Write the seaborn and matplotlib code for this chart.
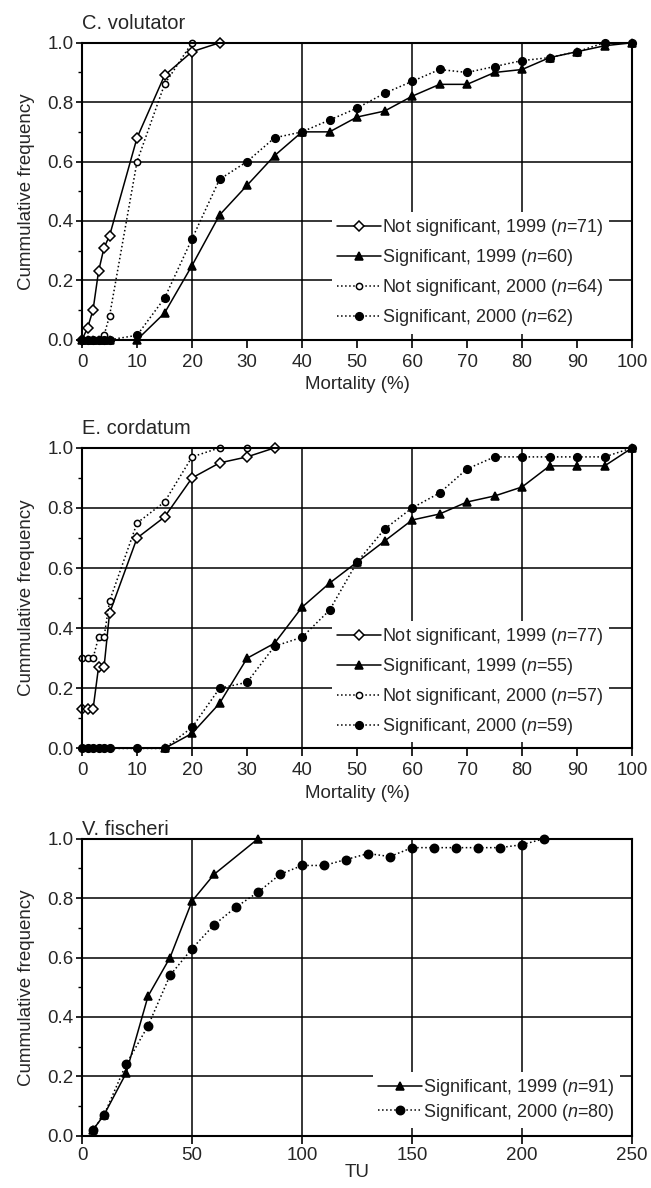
import matplotlib
matplotlib.use("Agg")
import matplotlib.pyplot as plt
import seaborn as sns
from matplotlib.ticker import MultipleLocator, FixedLocator, FormatStrFormatter

# ---- C. volutator (mortality %) ----
cv_x_ns99 = [0, 1, 2, 3, 4, 5, 10, 15, 20, 25]
cv_y_ns99 = [0.0, 0.04, 0.10, 0.23, 0.31, 0.35, 0.68, 0.89, 0.97, 1.0]
cv_x_s99 = [0, 1, 2, 3, 4, 5, 10, 15, 20, 25, 30, 35, 40, 45, 50, 55, 60, 65, 70, 75, 80, 85, 90, 95, 100]
cv_y_s99 = [0, 0, 0, 0, 0, 0, 0.0, 0.09, 0.25, 0.42, 0.52, 0.62, 0.70, 0.70, 0.75, 0.77, 0.82, 0.86, 0.86,
            0.90, 0.91, 0.95, 0.97, 0.99, 1.0]
cv_x_ns00 = [0, 1, 2, 3, 4, 5, 10, 15, 20]
cv_y_ns00 = [0, 0, 0, 0, 0.015, 0.08, 0.60, 0.86, 1.0]
cv_x_s00 = [0, 1, 2, 3, 4, 5, 10, 15, 20, 25, 30, 35, 40, 45, 50, 55, 60, 65, 70, 75, 80, 85, 90, 95, 100]
cv_y_s00 = [0, 0, 0, 0, 0, 0, 0.015, 0.14, 0.34, 0.54, 0.60, 0.68, 0.70, 0.74, 0.78, 0.83, 0.87, 0.91, 0.90,
            0.92, 0.94, 0.95, 0.97, 1.0, 1.0]

# ---- E. cordatum (mortality %) ----
ec_x_ns99 = [0, 1, 2, 3, 4, 5, 10, 15, 20, 25, 30, 35]
ec_y_ns99 = [0.13, 0.13, 0.13, 0.27, 0.27, 0.45, 0.70, 0.77, 0.90, 0.95, 0.97, 1.0]
ec_x_s99 = [15, 20, 25, 30, 35, 40, 45, 50, 55, 60, 65, 70, 75, 80, 85, 90, 95, 100]
ec_y_s99 = [0.0, 0.05, 0.15, 0.30, 0.35, 0.47, 0.55, 0.62, 0.69, 0.76, 0.78, 0.82, 0.84, 0.87, 0.94, 0.94, 0.94, 1.0]
ec_x_ns00 = [0, 1, 2, 3, 4, 5, 10, 15, 20, 25, 30]
ec_y_ns00 = [0.30, 0.30, 0.30, 0.37, 0.37, 0.49, 0.75, 0.82, 0.97, 1.0, 1.0]
ec_x_s00 = [0, 1, 2, 3, 4, 5, 10, 15, 20, 25, 30, 35, 40, 45, 50, 55, 60, 65, 70, 75, 80, 85, 90, 95, 100]
ec_y_s00 = [0, 0, 0, 0, 0, 0, 0, 0, 0.07, 0.20, 0.22, 0.34, 0.37, 0.46, 0.62, 0.73, 0.80, 0.85, 0.93,
            0.97, 0.97, 0.97, 0.97, 0.97, 1.0]

# ---- V. fischeri (TU) ----
vf_x_s99 = [5, 10, 20, 30, 40, 50, 60, 80]
vf_y_s99 = [0.02, 0.07, 0.21, 0.47, 0.60, 0.79, 0.88, 1.0]
vf_x_s00 = [5, 10, 20, 30, 40, 50, 60, 70, 80, 90, 100, 110, 120, 130, 140, 150, 160, 170, 180, 190, 200, 210]
vf_y_s00 = [0.02, 0.07, 0.24, 0.37, 0.54, 0.63, 0.71, 0.77, 0.82, 0.88, 0.91, 0.91, 0.93, 0.95, 0.94,
            0.97, 0.97, 0.97, 0.97, 0.97, 0.98, 1.0]

sns.set_style("ticks")
plt.rcParams["font.family"] = ["Liberation Sans", "DejaVu Sans"]
plt.rcParams["mathtext.fontset"] = "custom"
plt.rcParams["mathtext.rm"] = "Liberation Sans"
plt.rcParams["mathtext.it"] = "Liberation Sans:italic"
plt.rcParams["font.size"] = 13

# line styles per series kind
styles = {
    "ns99": dict(marker="D", markersize=5.5, markerfacecolor="white", linestyle="-"),
    "s99": dict(marker="^", markersize=6, markerfacecolor="black", linestyle="-"),
    "ns00": dict(marker="o", markersize=4.5, markerfacecolor="white", linestyle=":"),
    "s00": dict(marker="o", markersize=5.5, markerfacecolor="black", linestyle=":"),
}


def draw(ax, x, y, kind, label, msize=None):
    st = dict(styles[kind])
    if msize:
        st["markersize"] = msize
    sns.lineplot(x=x, y=y, ax=ax, color="black", linewidth=1.1, sort=False, estimator=None,
                 markeredgecolor="black", markeredgewidth=1.1, clip_on=False, label=label, **st)


def style_axes(ax, xmax, xmajor, xgrid, title, xlabel, title_pad, xpad=4, xlabelpad=4):
    ax.set_xlim(0, xmax)
    ax.set_ylim(0, 1)
    ax.xaxis.remove_overlapping_locs = False
    ax.xaxis.set_major_locator(MultipleLocator(xmajor))
    ax.xaxis.set_minor_locator(FixedLocator(xgrid))
    ax.yaxis.set_major_locator(MultipleLocator(0.2))
    ax.yaxis.set_minor_locator(MultipleLocator(0.1))
    ax.yaxis.set_major_formatter(FormatStrFormatter("%.1f"))
    ax.tick_params(axis="x", which="minor", length=0)
    ax.tick_params(axis="x", which="major", length=6, width=1.2, color="black", labelsize=13.5, pad=xpad)
    ax.tick_params(axis="y", which="major", length=4, width=1.2, color="black", labelsize=13.5, pad=2)
    ax.tick_params(axis="y", which="minor", length=3, width=1, color="black")
    ax.grid(False)
    ax.grid(True, axis="y", which="major", color="black", linewidth=1.1)
    ax.grid(True, axis="x", which="minor", color="black", linewidth=1.1)
    ax.set_axisbelow(True)
    for sp in ax.spines.values():
        sp.set_visible(True)
        sp.set_color("black")
        sp.set_linewidth(1.5)
    ax.set_title(title, loc="left", fontsize=14.5, pad=title_pad)
    ax.set_xlabel(xlabel, fontsize=13.5, labelpad=xlabelpad)
    ax.set_ylabel("Cummulative frequency", fontsize=13.5, labelpad=9)


fig = plt.figure(figsize=(6.51, 11.88), dpi=100)
ax1 = fig.add_axes([0.126, 0.714, 0.845, 0.250])
ax2 = fig.add_axes([0.126, 0.370, 0.845, 0.253])
ax3 = fig.add_axes([0.126, 0.044, 0.845, 0.250])

draw(ax1, cv_x_ns99, cv_y_ns99, "ns99", r"Not significant, 1999 ($\it{n}$=71)")
draw(ax1, cv_x_s99, cv_y_s99, "s99", r"Significant, 1999 ($\it{n}$=60)")
draw(ax1, cv_x_ns00, cv_y_ns00, "ns00", r"Not significant, 2000 ($\it{n}$=64)")
draw(ax1, cv_x_s00, cv_y_s00, "s00", r"Significant, 2000 ($\it{n}$=62)")
style_axes(ax1, 100, 10, [20, 40, 60, 80], "C. volutator", "Mortality (%)", 10)

draw(ax2, ec_x_ns99, ec_y_ns99, "ns99", r"Not significant, 1999 ($\it{n}$=77)")
draw(ax2, ec_x_s99, ec_y_s99, "s99", r"Significant, 1999 ($\it{n}$=55)")
draw(ax2, ec_x_ns00, ec_y_ns00, "ns00", r"Not significant, 2000 ($\it{n}$=57)")
draw(ax2, ec_x_s00, ec_y_s00, "s00", r"Significant, 2000 ($\it{n}$=59)")
style_axes(ax2, 100, 10, [20, 40, 60, 80], "E. cordatum", "Mortality (%)", 10)

draw(ax3, vf_x_s99, vf_y_s99, "s99", r"Significant, 1999 ($\it{n}$=91)")
draw(ax3, vf_x_s00, vf_y_s00, "s00", r"Significant, 2000 ($\it{n}$=80)", msize=6)
style_axes(ax3, 250, 50, [50, 100, 150, 200], "V. fischeri", "TU", -1, xpad=2, xlabelpad=0)

for ax, spacing, anchor in [(ax1, 0.5, (0.975, -0.01)), (ax2, 0.5, (0.975, -0.01)), (ax3, 0.2, (0.995, -0.005))]:
    leg = ax.legend(loc="lower right", bbox_to_anchor=anchor, frameon=True, fancybox=False,
                    facecolor="white", edgecolor="white", framealpha=1, fontsize=13,
                    handlelength=2.4, handletextpad=0.1, labelspacing=spacing, borderpad=0.3)
    leg.get_frame().set_linewidth(0)

fig.savefig("out.png", dpi=100)
